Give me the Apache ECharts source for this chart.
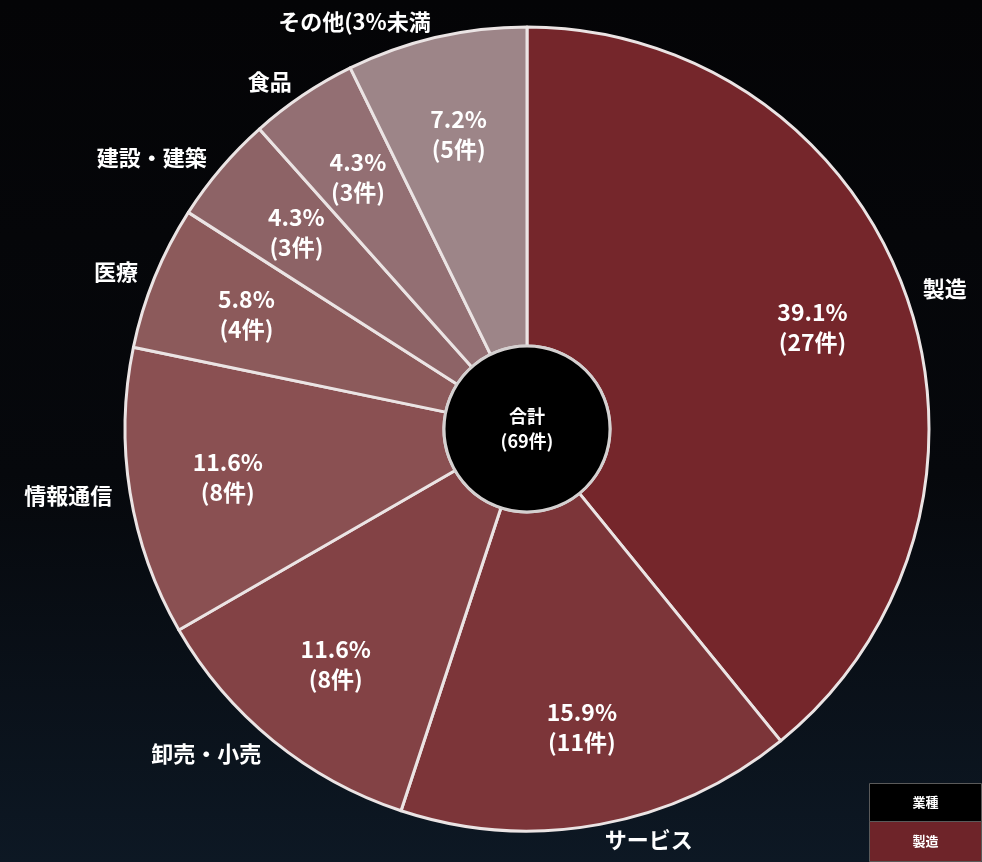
<!DOCTYPE html>
<html lang="ja">
<head>
<meta charset="utf-8">
<title>業種別内訳</title>
<script src="https://cdn.jsdelivr.net/npm/echarts@6/dist/echarts.min.js"></script>
<style>
  html, body { margin: 0; padding: 0; background: #050507; }
  #chart { width: 982px; height: 862px; }
</style>
</head>
<body>
<div id="chart"></div>
<script>
// 業種別の件数
const categories = ['製造', 'サービス', '卸売・小売', '情報通信', '医療', '建設・建築', '食品', 'その他(3%未満'];
const counts = [27, 11, 8, 8, 4, 3, 3, 5];
const sliceColors = ['#75262b', '#7c3539', '#834245', '#8a5052', '#8c5a5b', '#8d6366', '#936f73', '#9d8588'];

const legendTitle = '業種';
const legendItem = '製造';
const centerTitle = '合計';

const total = counts.reduce((a, b) => a + b, 0);
const FONT = '"Noto Sans CJK JP", "Noto Sans", sans-serif';

const pieData = categories.map((name, i) => ({
  name: name,
  value: counts[i],
  itemStyle: { color: sliceColors[i] }
}));

const chart = echarts.init(document.getElementById('chart'));
chart.setOption({
  backgroundColor: {
    type: 'linear', x: 0, y: 0, x2: 0, y2: 1,
    colorStops: [
      { offset: 0, color: '#040406' },
      { offset: 0.55, color: '#06080c' },
      { offset: 1, color: '#0d1824' }
    ]
  },
  animation: false,
  series: [
    {
      // 外周のカテゴリ名
      type: 'pie',
      center: [527, 429],
      radius: [83, 402],
      startAngle: 90,
      clockwise: true,
      avoidLabelOverlap: false,
      silent: true,
      data: pieData,
      itemStyle: { borderColor: '#ebe4e4', borderWidth: 3 },
      label: {
        show: true,
        position: 'outside',
        color: '#ffffff',
        fontFamily: FONT,
        fontWeight: 'bold',
        fontSize: 22,
        distanceToLabelLine: 2,
        formatter: p => p.name
      },
      labelLine: { show: false, length: 16, length2: 0 }
    },
    {
      // 扇形内の割合・件数
      type: 'pie',
      center: [527, 429],
      radius: [198, 402],
      startAngle: 90,
      clockwise: true,
      silent: true,
      data: pieData.map(d => ({ name: d.name, value: d.value, itemStyle: { color: 'rgba(0,0,0,0)' } })),
      label: {
        show: true,
        position: 'inside',
        color: '#ffffff',
        fontFamily: FONT,
        fontWeight: 'bold',
        fontSize: 23,
        lineHeight: 30,
        formatter: p => (p.value / total * 100).toFixed(1) + '%\n(' + p.value + '件)'
      },
      labelLine: { show: false }
    },
    {
      // 中央の合計
      type: 'pie',
      center: [527, 429],
      radius: [0, 83],
      silent: true,
      data: [{ name: centerTitle, value: total }],
      itemStyle: { color: '#000000', borderColor: '#d4d0d0', borderWidth: 3 },
      label: {
        show: true,
        position: 'center',
        color: '#ffffff',
        fontFamily: FONT,
        fontWeight: 'bold',
        fontSize: 18,
        lineHeight: 25,
        formatter: p => centerTitle + '\n(' + p.value + '件)'
      },
      labelLine: { show: false }
    }
  ],
  graphic: [
    {
      type: 'group',
      right: 0,
      bottom: 0,
      children: [
        { type: 'rect', shape: { x: 0, y: 0, width: 112, height: 38 }, style: { fill: '#000000', stroke: '#5a5a5a', lineWidth: 1 } },
        { type: 'rect', shape: { x: 0, y: 38, width: 112, height: 40 }, style: { fill: '#6e2429', stroke: '#5a5a5a', lineWidth: 1 } },
        { type: 'text', x: 56, y: 19, style: { text: legendTitle, fill: '#ffffff', font: 'bold 13px ' + FONT, align: 'center', verticalAlign: 'middle' } },
        { type: 'text', x: 56, y: 58, style: { text: legendItem, fill: '#ffffff', font: 'bold 13px ' + FONT, align: 'center', verticalAlign: 'middle' } }
      ]
    }
  ]
});
</script>
</body>
</html>
